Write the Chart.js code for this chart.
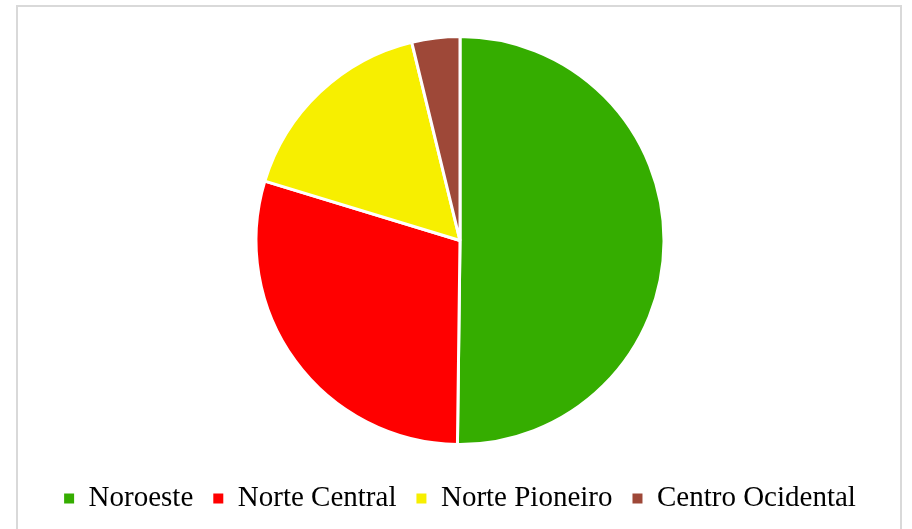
<!DOCTYPE html>
<html>
<head>
<meta charset="utf-8">
<script src="https://cdn.jsdelivr.net/npm/chart.js@4"></script>
<style>
  html, body { margin: 0; padding: 0; background: #fff; overflow: hidden; }
  #frame { position: absolute; left: 16px; top: 5px; width: 886px; height: 560px; border: 2px solid #d9d9d9; box-sizing: border-box; }
  #wrap { position: absolute; left: 0; top: 0; width: 912px; height: 523px; }
</style>
</head>
<body>
<div id="frame"></div>
<div id="wrap"><canvas id="myChart"></canvas></div>
<script>
// regiões e participação (%)
var regioes = ['Noroeste', 'Norte Central', 'Norte Pioneiro', 'Centro Ocidental'];
var valores = [50.2, 29.5, 16.5, 3.8];
var cores = ['#35ad00', '#ff0000', '#f7ef00', '#9e4838'];

const ctx = document.getElementById('myChart');

var myChart = new Chart(ctx, {
    type: 'pie',
    data: {
        labels: regioes,
        datasets: [{
            data: valores,
            backgroundColor: cores,
            borderColor: '#ffffff',
            borderWidth: 3,
            radius: 204
        }]
    },
    options: {
        responsive: true,
        maintainAspectRatio: false,
        animation: false,
        layout: { padding: { left: 8, top: 17, right: 0, bottom: 0 } },
        plugins: {
            tooltip: { enabled: false },
            legend: {
                position: 'bottom',
                labels: {
                    boxWidth: 10,
                    boxHeight: 10,
                    padding: 20,
                    color: '#000',
                    font: { family: "'Liberation Serif', 'Times New Roman', serif", size: 29 },
                    generateLabels: function(chart){
                        var itens = Chart.overrides.pie.plugins.legend.labels.generateLabels(chart);
                        itens.forEach(function(i){ i.lineWidth = 0; });
                        return itens;
                    }
                }
            }
        }
    }
});
</script>
</body>
</html>
